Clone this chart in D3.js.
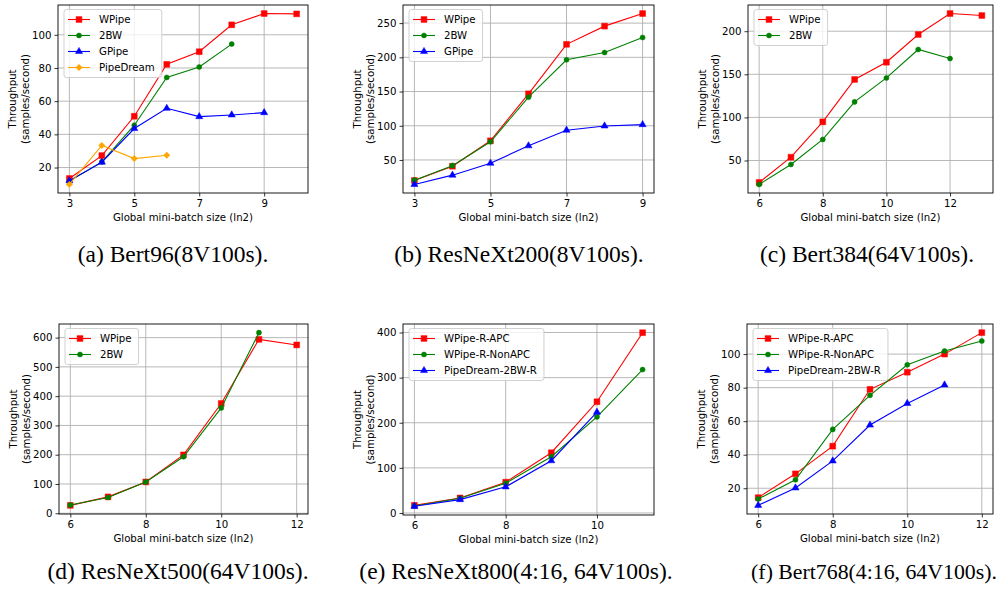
<!DOCTYPE html>
<html><head><meta charset="utf-8">
<script src="https://cdn.jsdelivr.net/npm/d3@7"></script>
<style>body{margin:0;background:#fff}svg{display:block}</style>
</head><body><svg id="chart" width="998" height="590"></svg>
<script>
// ---------- DATA ----------
// (a) Bert96(8V100s)
const aX = [3, 4, 5, 6, 7, 8, 9, 10];
const aWPipe = [13.4, 27.2, 50.9, 82.2, 89.8, 106, 112.8, 112.6];
const a2BW = [11.8, 23.4, 45.5, 74.3, 80.6, 94.4];
const aGPipe = [12, 23.2, 43.5, 55.7, 50.7, 51.7, 53.1];
const aPipeDream = [9.8, 33.3, 25.4, 27.4];
const aXTicks = [3, 5, 7, 9];
const aYTicks = [20, 40, 60, 80, 100];
// (b) ResNeXt200(8V100s)
const bX = [3, 4, 5, 6, 7, 8, 9];
const bWPipe = [20, 40.8, 78, 146.7, 219, 245.6, 264];
const b2BW = [20.5, 41.7, 76.5, 141.8, 196.4, 207, 229];
const bGPipe = [14.2, 27.8, 45.2, 70.7, 93.5, 99.7, 101.7];
const bXTicks = [3, 5, 7, 9];
const bYTicks = [50, 100, 150, 200, 250];
// (c) Bert384(64V100s)
const cX = [6, 7, 8, 9, 10, 11, 12, 13];
const cWPipe = [24.5, 53.8, 94.8, 144, 164, 196.2, 220.5, 218.2];
const c2BW = [22.2, 45.4, 74.4, 118, 145.8, 178.8, 168.3];
const cXTicks = [6, 8, 10, 12];
const cYTicks = [50, 100, 150, 200];
// (d) ResNeXt500(64V100s)
const dX = [6, 7, 8, 9, 10, 11, 12];
const dWPipe = [27, 56, 107, 199.5, 375, 594, 575];
const d2BW = [28, 54, 107, 193, 360, 617];
const dXTicks = [6, 8, 10, 12];
const dYTicks = [0, 100, 200, 300, 400, 500, 600];
// (e) ResNeXt800(4:16, 64V100s)
const eX = [6, 7, 8, 9, 10, 11];
const eAPC = [17, 33.4, 68.3, 133.6, 246.5, 399.6];
const eNonAPC = [15.6, 32.7, 66, 124.7, 213, 317.8];
const e2BWR = [14.8, 29.7, 58, 115.8, 223.4];
const eXTicks = [6, 8, 10];
const eYTicks = [0, 100, 200, 300, 400];
// (f) Bert768(4:16, 64V100s)
const fX = [6, 7, 8, 9, 10, 11, 12];
const fAPC = [14.4, 28.6, 45.1, 79, 89.2, 100, 112.8];
const fNonAPC = [13.6, 25.1, 55.1, 75.4, 93.6, 101.8, 107.8];
const f2BWR = [9.8, 20.2, 36.3, 57.7, 70.6, 81.6];
const fXTicks = [6, 8, 10, 12];
const fYTicks = [20, 40, 60, 80, 100];

const captions = ["(a) Bert96(8V100s).", "(b) ResNeXt200(8V100s).", "(c) Bert384(64V100s).",
  "(d) ResNeXt500(64V100s).", "(e) ResNeXt800(4:16, 64V100s).", "(f) Bert768(4:16, 64V100s)."];
const xLabel = "Global mini-batch size (ln2)";
const yLabel = ["Throughput", "(samples/second)"];

// ---------- STYLES ----------
const STY = {
  red: {color: "#ff0000", marker: "square"},
  green: {color: "#008000", marker: "circle"},
  blue: {color: "#0000ff", marker: "triangle"},
  orange: {color: "#ffa500", marker: "diamond"}
};

const panels = [
  {box: [58, 5, 250, 188], x: aX, xTicks: aXTicks, yTicks: aYTicks, cap: captions[0], capX: 173, capY: 262, capFS: 23.5,
   series: [["WPipe", aWPipe, "red"], ["2BW", a2BW, "green"], ["GPipe", aGPipe, "blue"], ["PipeDream", aPipeDream, "orange"]]},
  {box: [403, 5, 251, 188], x: bX, xTicks: bXTicks, yTicks: bYTicks, cap: captions[1], capX: 519, capY: 262, capFS: 23.5,
   series: [["WPipe", bWPipe, "red"], ["2BW", b2BW, "green"], ["GPipe", bGPipe, "blue"]]},
  {box: [748, 5, 245, 188], x: cX, xTicks: cXTicks, yTicks: cYTicks, cap: captions[2], capX: 867, capY: 262, capFS: 23.5,
   series: [["WPipe", cWPipe, "red"], ["2BW", c2BW, "green"]]},
  {box: [59, 324, 249, 190], x: dX, xTicks: dXTicks, yTicks: dYTicks, cap: captions[3], capX: 178, capY: 579, capFS: 23.5,
   series: [["WPipe", dWPipe, "red"], ["2BW", d2BW, "green"]]},
  {box: [403, 324, 251, 191], x: eX, xTicks: eXTicks, yTicks: eYTicks, cap: captions[4], capX: 516, capY: 579, capFS: 23.5,
   series: [["WPipe-R-APC", eAPC, "red"], ["WPipe-R-NonAPC", eNonAPC, "green"], ["PipeDream-2BW-R", e2BWR, "blue"]]},
  {box: [747, 324, 246, 190], x: fX, xTicks: fXTicks, yTicks: fYTicks, cap: captions[5], capX: 874, capY: 579, capFS: 21.8,
   series: [["WPipe-R-APC", fAPC, "red"], ["WPipe-R-NonAPC", fNonAPC, "green"], ["PipeDream-2BW-R", f2BWR, "blue"]]}
];

const svg = d3.select("#chart");
const FONT = "'DejaVu Sans', sans-serif";
const FS = 10.2;

function markerPath(kind) {
  if (kind === "square") return d3.symbol(d3.symbolSquare, 34)();
  if (kind === "circle") return d3.symbol(d3.symbolCircle, 20)();
  if (kind === "triangle") return d3.symbol(d3.symbolTriangle, 22)();
  if (kind === "diamond") return d3.symbol(d3.symbolSquare, 20)();
  return "";
}
function drawMarker(g, kind, color, x, y) {
  g.append("path").attr("d", markerPath(kind))
    .attr("transform", `translate(${x},${y})` + (kind === "diamond" ? " rotate(45)" : ""))
    .attr("fill", color).attr("stroke", color).attr("stroke-width", 0.5);
}

panels.forEach(p => {
  const [L, T, W, H] = p.box;
  const g = svg.append("g");
  const allY = p.series.flatMap(s => s[1]);
  const yMin = d3.min(allY), yMax = d3.max(allY), yr = yMax - yMin;
  const xMin = d3.min(p.x), xMax = d3.max(p.x), xr = xMax - xMin;
  const xs = d3.scaleLinear().domain([xMin - 0.05 * xr, xMax + 0.05 * xr]).range([L, L + W]);
  const ys = d3.scaleLinear().domain([yMin - 0.05 * yr, yMax + 0.05 * yr]).range([T + H, T]);

  // grid
  const grid = g.append("g").attr("stroke", "#b0b0b0").attr("stroke-width", 0.9);
  p.xTicks.forEach(t => grid.append("line").attr("x1", xs(t)).attr("x2", xs(t)).attr("y1", T).attr("y2", T + H));
  p.yTicks.forEach(t => grid.append("line").attr("x1", L).attr("x2", L + W).attr("y1", ys(t)).attr("y2", ys(t)));

  // axes
  const xAxis = d3.axisBottom(xs).tickValues(p.xTicks).tickSize(3.5).tickPadding(3).tickFormat(d3.format("d"));
  const yAxis = d3.axisLeft(ys).tickValues(p.yTicks).tickSize(3.5).tickPadding(3).tickFormat(d3.format("d"));
  const xg = g.append("g").attr("transform", `translate(0,${T + H})`).call(xAxis);
  const yg = g.append("g").attr("transform", `translate(${L},0)`).call(yAxis);
  [xg, yg].forEach(a => {
    a.select(".domain").remove();
    a.selectAll("line").attr("stroke", "#000").attr("stroke-width", 0.8);
    a.selectAll("text").attr("font-family", FONT).attr("font-size", FS).attr("fill", "#000");
  });

  // series
  p.series.forEach(([name, vals, sty]) => {
    const st = STY[sty];
    const pts = vals.map((v, i) => [p.x[i], v]);
    const line = d3.line().x(d => xs(d[0])).y(d => ys(d[1]));
    g.append("path").attr("d", line(pts)).attr("fill", "none").attr("stroke", st.color).attr("stroke-width", 1.1);
    pts.forEach(d => drawMarker(g, st.marker, st.color, xs(d[0]), ys(d[1])));
  });

  // frame
  g.append("rect").attr("x", L).attr("y", T).attr("width", W).attr("height", H)
    .attr("fill", "none").attr("stroke", "#000").attr("stroke-width", 0.9);

  // legend
  const lg = g.append("g");
  const bx = L + 6, by = T + 4.5;
  const box = lg.append("rect").attr("x", bx).attr("y", by).attr("rx", 2.5).attr("ry", 2.5)
    .attr("height", 16 * p.series.length + 4)
    .attr("fill", "#fff").attr("fill-opacity", 0.8).attr("stroke", "#cccccc").attr("stroke-width", 0.9);
  let maxW = 0;
  p.series.forEach(([name, vals, sty], i) => {
    const st = STY[sty];
    const cy = by + 10 + 16 * i;
    lg.append("line").attr("x1", bx + 4).attr("x2", bx + 26).attr("y1", cy).attr("y2", cy)
      .attr("stroke", st.color).attr("stroke-width", 1.1);
    drawMarker(lg, st.marker, st.color, bx + 15, cy);
    const t = lg.append("text").attr("x", bx + 35).attr("y", cy).attr("dy", "0.35em")
      .attr("font-family", FONT).attr("font-size", FS).attr("fill", "#000").text(name);
    maxW = Math.max(maxW, t.node().getComputedTextLength());
  });
  box.attr("width", 35 + maxW + 7);

  // axis labels
  g.append("text").attr("x", L + W / 2).attr("y", T + H + 27.5).attr("text-anchor", "middle")
    .attr("font-family", FONT).attr("font-size", FS).attr("fill", "#000").text(xLabel);
  const cyMid = T + H / 2;
  yLabel.forEach((txt, i) => {
    g.append("text").attr("transform", `translate(${L - 46 + i * 13},${cyMid}) rotate(-90)`)
      .attr("text-anchor", "middle").attr("dy", "0.35em")
      .attr("font-family", FONT).attr("font-size", FS).attr("fill", "#000").text(txt);
  });

  // caption
  g.append("text").attr("x", p.capX).attr("y", p.capY).attr("text-anchor", "middle")
    .attr("font-family", "'Liberation Serif', 'Times New Roman', serif").attr("font-size", p.capFS)
    .attr("fill", "#000").text(p.cap);
});
</script></body></html>
